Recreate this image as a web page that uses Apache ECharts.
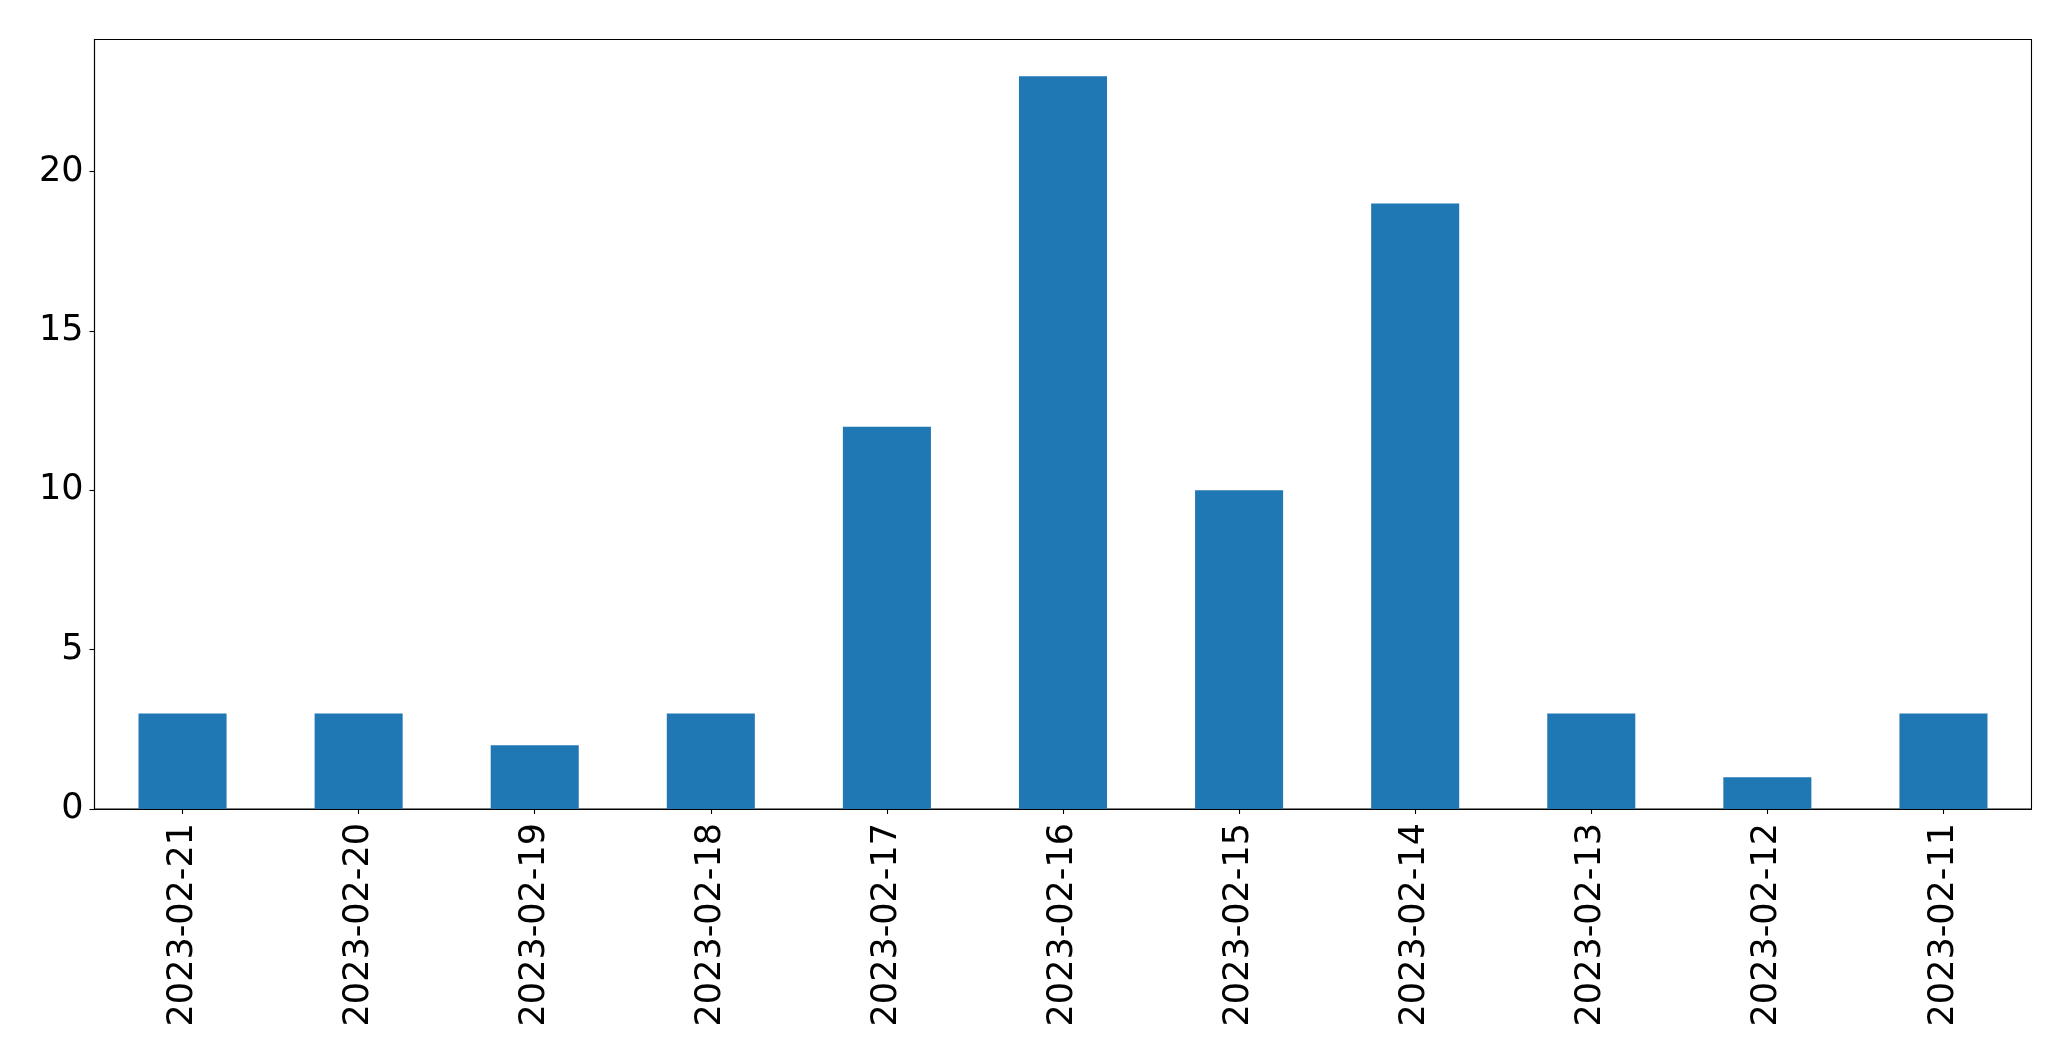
<!DOCTYPE html>
<html>
<head>
<meta charset="utf-8">
<script src="https://cdn.jsdelivr.net/npm/echarts@6/dist/echarts.min.js"></script>
<style>html,body{margin:0;padding:0;background:#fff;}#c{width:2071px;height:1061px;}</style>
</head>
<body>
<div id="c"></div>
<script>
const categories = ['2023-02-21','2023-02-20','2023-02-19','2023-02-18','2023-02-17','2023-02-16','2023-02-15','2023-02-14','2023-02-13','2023-02-12','2023-02-11'];
const counts = [3, 3, 2, 3, 12, 23, 10, 19, 3, 1, 3];
const yTicks = [0, 5, 10, 15, 20];

const chart = echarts.init(document.getElementById('c'), null, {renderer: 'canvas'});
const font = 'DejaVu Sans';
chart.setOption({
  animation: false,
  backgroundColor: '#ffffff',
  grid: {left: 94.5, right: 39.5, top: 39.5, bottom: 252, show: true, borderColor: '#000', borderWidth: 1.1, backgroundColor: 'transparent'},
  xAxis: {
    type: 'category',
    data: categories,
    boundaryGap: true,
    axisLine: {show: true, lineStyle: {color: '#000', width: 1.1}},
    axisTick: {show: true, alignWithLabel: true, length: 5, lineStyle: {color: '#000', width: 1.1}},
    axisLabel: {rotate: 90, color: '#000', fontFamily: font, fontSize: 35, margin: 14, interval: 0},
    splitLine: {show: false}
  },
  yAxis: {
    type: 'value',
    min: 0,
    max: 24.15,
    interval: 5,
    axisLine: {show: true, lineStyle: {color: '#000', width: 1.1}},
    axisTick: {show: true, length: 5, lineStyle: {color: '#000', width: 1.1}, customValues: yTicks},
    axisLabel: {color: '#000', fontFamily: font, fontSize: 35, margin: 11, customValues: yTicks},
    splitLine: {show: false}
  },
  series: [{
    type: 'bar',
    data: counts,
    barWidth: '50%',
    itemStyle: {color: '#1f77b4'}
  }]
});
</script>
</body>
</html>
